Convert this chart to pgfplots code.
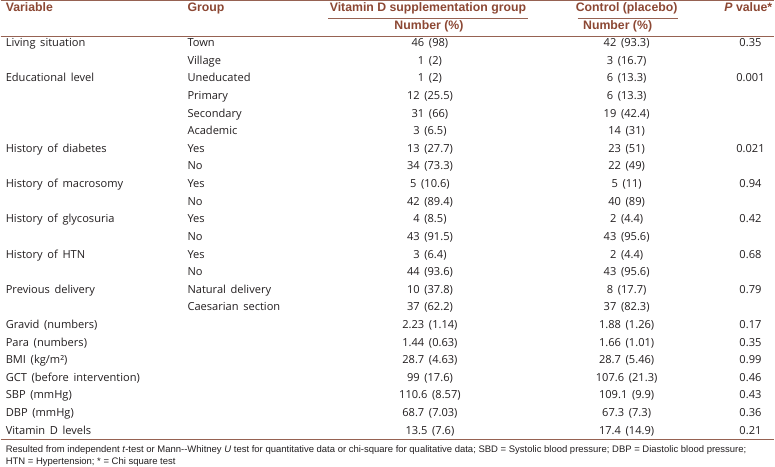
\documentclass[border=0pt]{standalone}
\usepackage{fontspec}
\setmainfont{Open Sans}
\newfontfamily\headfont{Liberation Sans}
\usepackage{pgfplots}
\usepackage{pgfplotstable}
\pgfplotsset{compat=1.18}

\definecolor{rulebrown}{RGB}{150,98,82}
\definecolor{headbrown}{RGB}{140,72,52}
\definecolor{bodytext}{RGB}{35,31,32}

\newcommand\widespace{\spaceskip=0.42em\relax}

\tikzset{
    head/.style={inner sep=0pt, text=headbrown,
        font=\fontsize{12.3}{14}\selectfont\headfont\bfseries},
    foot/.style={anchor=mid west, inner sep=0pt, text=bodytext,
        font=\fontsize{9.5}{11}\selectfont\headfont},
}

% row index r -> row 0 is "Town", row 22 is "Vitamin D levels"
\pgfplotstableread[col sep=comma]{
r,label
0,Living situation
2,Educational level
6,History of diabetes
8,History of macrosomy
10,History of glycosuria
12,History of HTN
14,Previous delivery
16,Gravid (numbers)
17,Para (numbers)
18,BMI (kg/m²)
19,GCT (before intervention)
20,SBP (mmHg)
21,DBP (mmHg)
22,Vitamin D levels
}\vartab

\pgfplotstableread[col sep=comma]{
r,group,vit,ctl
0,Town,46 (98),42 (93.3)
1,Village,1 (2),3 (16.7)
2,Uneducated,1 (2),6 (13.3)
3,Primary,12 (25.5),6 (13.3)
4,Secondary,31 (66),19 (42.4)
5,Academic,3 (6.5),14 (31)
6,Yes,13 (27.7),23 (51)
7,No,34 (73.3),22 (49)
8,Yes,5 (10.6),5 (11)
9,No,42 (89.4),40 (89)
10,Yes,4 (8.5),2 (4.4)
11,No,43 (91.5),43 (95.6)
12,Yes,3 (6.4),2 (4.4)
13,No,44 (93.6),43 (95.6)
14,Natural delivery,10 (37.8),8 (17.7)
15,Caesarian section,37 (62.2),37 (82.3)
}\grptab

\pgfplotstableread[col sep=comma]{
r,vit,ctl
16,2.23 (1.14),1.88 (1.26)
17,1.44 (0.63),1.66 (1.01)
18,28.7 (4.63),28.7 (5.46)
19,99 (17.6),107.6 (21.3)
20,110.6 (8.57),109.1 (9.9)
21,68.7 (7.03),67.3 (7.3)
22,13.5 (7.6),17.4 (14.9)
}\quanttab

\pgfplotstableread[col sep=comma]{
r,p
0,0.35
2,0.001
6,0.021
8,0.94
10,0.42
12,0.68
14,0.79
16,0.17
17,0.35
18,0.99
19,0.46
20,0.43
21,0.36
22,0.21
}\ptab

\begin{document}
\begin{tikzpicture}
\begin{axis}[
    width=775pt, height=472pt, scale only axis,
    xmin=0, xmax=775, ymin=0, ymax=472, y dir=reverse,
    hide axis, clip=false,
    body/.style={draw=none, nodes near coords={\widespace\pgfplotspointmeta},
        point meta=explicit symbolic,
        every node near coord/.append style={inner sep=0pt, text=bodytext,
            font=\fontsize{11.1}{12}\selectfont, anchor=#1}},
]
% rules
\addplot[rulebrown, line width=1.2pt] coordinates {(0,1.5) (775,1.5)};
\addplot[rulebrown, line width=0.9pt] coordinates {(328,19) (528,19)};
\addplot[rulebrown, line width=0.9pt] coordinates {(578,19) (678,19)};
\addplot[rulebrown, line width=0.9pt] coordinates {(0,37) (775,37)};
\addplot[rulebrown, line width=0.9pt] coordinates {(0,441) (775,441)};

% header
\node[head, anchor=mid west] at (axis cs:5,10) {Variable};
\node[head, anchor=mid west] at (axis cs:187,10) {Group};
\node[head, anchor=mid] at (axis cs:428,10) {Vitamin D supplementation group};
\node[head, anchor=mid] at (axis cs:627,10) {Control (placebo)};
\node[head, anchor=mid east] at (axis cs:773,10) {\textit{P} value*};
\node[head, anchor=mid] at (axis cs:429,28) {Number (\%)};
\node[head, anchor=mid] at (axis cs:618,28) {Number (\%)};

% body
\addplot[body=mid west] table[x expr=5, y expr={45+17.64*\thisrow{r}}, meta=label] {\vartab};
\addplot[body=mid west] table[x expr=187, y expr={45+17.64*\thisrow{r}}, meta=group] {\grptab};
\addplot[body=mid] table[x expr=430, y expr={45+17.64*\thisrow{r}}, meta=vit] {\grptab};
\addplot[body=mid] table[x expr=627, y expr={45+17.64*\thisrow{r}}, meta=ctl] {\grptab};
\addplot[body=mid] table[x expr=430, y expr={45+17.64*\thisrow{r}}, meta=vit] {\quanttab};
\addplot[body=mid] table[x expr=627, y expr={45+17.64*\thisrow{r}}, meta=ctl] {\quanttab};
\addplot[body=mid] table[x expr=751, y expr={45+17.64*\thisrow{r}}, meta=p] {\ptab};

% footnote
\node[foot] at (axis cs:5,451) {Resulted from independent \textit{t}-test or Mann--Whitney \textit{U} test for quantitative data or chi-square for qualitative data; SBD = Systolic blood pressure; DBP = Diastolic blood pressure;};
\node[foot] at (axis cs:5,463) {HTN = Hypertension; * = Chi square test};
\end{axis}
\end{tikzpicture}
\end{document}
